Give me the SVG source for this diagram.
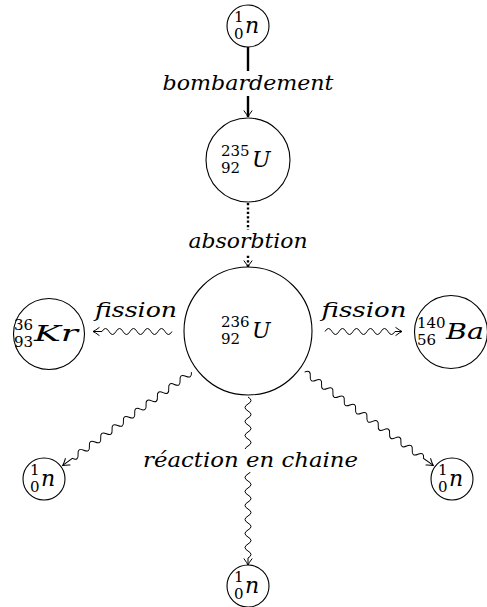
<svg xmlns="http://www.w3.org/2000/svg" width="487" height="607" viewBox="0 0 487 607">
<defs>
<style>
.c{fill:none;stroke:#000;stroke-width:1.1}
.lab{font-family:'DejaVu Serif','Times New Roman','Liberation Serif',serif;font-style:italic;font-size:20px;fill:#000}
.m{font-family:'DejaVu Serif','Times New Roman','Liberation Serif',serif;font-style:italic;font-size:22px;fill:#000}
.s{font-family:'DejaVu Serif','Times New Roman','Liberation Serif',serif;font-size:15px;fill:#000}
.w{fill:none;stroke:#000;stroke-width:1}
.bg{fill:#fff}
</style>
<marker id="ar" markerUnits="userSpaceOnUse" markerWidth="12" markerHeight="12" refX="0" refY="0" orient="auto" overflow="visible">
<path d="M-6.5,-4.2 Q-2,-0.8 0,0 Q-2,0.8 -6.5,4.2" fill="none" stroke="#000" stroke-width="1"/>
</marker>
</defs>

<g id="connectors">
<line x1="248" y1="47" x2="248" y2="117" stroke="#000" stroke-width="2.4" marker-end="url(#ar)"/>
<line x1="248" y1="203" x2="248" y2="267" stroke="#000" stroke-width="2.4" stroke-dasharray="2.2 2.2" marker-end="url(#ar)"/>
<path class="w" transform="translate(172,331.5) rotate(180)" marker-end="url(#ar)" d="M0 0 Q3.5 -6 7 0 T14 0 T21 0 T28 0 T35 0 T42 0 T49 0 T56 0 T63 0 T70 0 L79 0"/>
<path class="w" transform="translate(325,331.5)" marker-end="url(#ar)" d="M0 0 Q3.5 -6 7 0 T14 0 T21 0 T28 0 T35 0 T42 0 T49 0 T56 0 T63 0 T70 0 L77 0"/>
<path class="w" transform="translate(191.4,372.1) rotate(144.05)" marker-end="url(#ar)" d="M0 0 Q3.5 -6 7 0 T14 0 T21 0 T28 0 T35 0 T42 0 T49 0 T56 0 T63 0 T70 0 T77 0 T84 0 T91 0 T98 0 T105 0 T112 0 T119 0 T126 0 T133 0 T140 0 T147 0 L159 0"/>
<path class="w" transform="translate(304.6,372.1) rotate(35.95)" marker-end="url(#ar)" d="M0 0 Q3.5 -6 7 0 T14 0 T21 0 T28 0 T35 0 T42 0 T49 0 T56 0 T63 0 T70 0 T77 0 T84 0 T91 0 T98 0 T105 0 T112 0 T119 0 T126 0 T133 0 T140 0 T147 0 L159 0"/>
<path class="w" transform="translate(248,397) rotate(90)" marker-end="url(#ar)" d="M0 0 Q3.5 -6 7 0 T14 0 T21 0 T28 0 T35 0 T42 0 T49 0 T56 0 T63 0 T70 0 T77 0 T84 0 T91 0 T98 0 T105 0 T112 0 T119 0 T126 0 T133 0 T140 0 T147 0 T154 0 T161 0 L168 0"/>
<rect class="bg" x="160" y="71" width="176" height="25"/>
<text class="lab" x="248" y="90" text-anchor="middle" textLength="171" lengthAdjust="spacingAndGlyphs">bombardement</text>
<rect class="bg" x="185" y="230" width="126" height="24"/>
<text class="lab" x="248" y="248" text-anchor="middle" textLength="119" lengthAdjust="spacingAndGlyphs">absorbtion</text>
<text class="lab" x="136" y="316.5" text-anchor="middle" textLength="82" lengthAdjust="spacingAndGlyphs">fission</text>
<text class="lab" x="364" y="316.5" text-anchor="middle" textLength="85" lengthAdjust="spacingAndGlyphs">fission</text>
<rect class="bg" x="141" y="449" width="219" height="23"/>
<text class="lab" x="250.5" y="467" text-anchor="middle" textLength="215" lengthAdjust="spacingAndGlyphs">réaction en chaine</text>
</g>

<g id="n0" transform="translate(248,26)">
<circle class="c" r="21"/>
<text class="s" x="-14" y="-4">1</text>
<text class="s" x="-14" y="13">0</text>
<text class="m" x="-3" y="7">n</text>
</g>

<g id="u235" transform="translate(248,160)">
<circle class="c" r="42"/>
<text class="s" x="-27" y="-4">235</text>
<text class="s" x="-27" y="13">92</text>
<text class="m" x="4" y="7">U</text>
</g>

<g id="u236" transform="translate(248,331)">
<circle class="c" r="64"/>
<text class="s" x="-27" y="-4">236</text>
<text class="s" x="-27" y="13">92</text>
<text class="m" x="4" y="7">U</text>
</g>

<g id="kr" transform="translate(49,334)">
<circle class="c" r="35.5"/>
<text class="s" x="-35" y="-4">36</text>
<text class="s" x="-35" y="13">93</text>
<text class="m" x="-15" y="7" textLength="44" lengthAdjust="spacingAndGlyphs">Kr</text>
</g>

<g id="ba" transform="translate(451,332)">
<circle class="c" r="36.5"/>
<text class="s" x="-34" y="-4">140</text>
<text class="s" x="-34" y="13">56</text>
<text class="m" x="-5" y="7" textLength="38" lengthAdjust="spacingAndGlyphs">Ba</text>
</g>

<g id="n1" transform="translate(44,479)">
<circle class="c" r="21"/>
<text class="s" x="-14" y="-4">1</text>
<text class="s" x="-14" y="13">0</text>
<text class="m" x="-3" y="7">n</text>
</g>

<g id="n2" transform="translate(452,479)">
<circle class="c" r="21"/>
<text class="s" x="-14" y="-4">1</text>
<text class="s" x="-14" y="13">0</text>
<text class="m" x="-3" y="7">n</text>
</g>

<g id="n3" transform="translate(248,586)">
<circle class="c" r="21"/>
<text class="s" x="-14" y="-4">1</text>
<text class="s" x="-14" y="13">0</text>
<text class="m" x="-3" y="7">n</text>
</g>
</svg>
